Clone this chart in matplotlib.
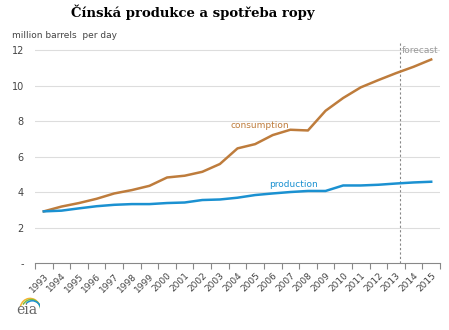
import numpy as np
import matplotlib.pyplot as plt
from matplotlib.patches import Arc

# data
years = [str(y) for y in range(1993, 2016)]
consumption = [2.91, 3.18, 3.38, 3.62, 3.92, 4.11, 4.35, 4.82, 4.92, 5.14, 5.58,
               6.46, 6.70, 7.21, 7.51, 7.47, 8.58, 9.30, 9.90, 10.31, 10.70, 11.06, 11.47]
production = [2.91, 2.95, 3.08, 3.20, 3.28, 3.32, 3.32, 3.38, 3.41, 3.55, 3.58,
              3.68, 3.83, 3.92, 4.00, 4.06, 4.06, 4.37, 4.37, 4.41, 4.48, 4.54, 4.58]
yticks = [0, 2, 4, 6, 8, 10, 12]
ytick_labels = ['-', '2', '4', '6', '8', '10', '12']

c_brown = '#BE7C3C'
c_blue = '#1B91D1'
c_text = '#444444'

fig = plt.figure(figsize=(4.49, 3.30), dpi=100)
ax = fig.add_axes([35/449, 67/330, 405/449, 220/330])

x = np.arange(len(years))
ax.plot(x, consumption, color=c_brown, lw=1.8, zorder=3)
ax.plot(x, production, color=c_blue, lw=1.8, zorder=3)

ax.set_xlim(-0.5, len(years) - 0.5)
ax.set_ylim(0, 12.4)

# horizontal grid
for v in yticks[1:]:
    ax.axhline(v, color='#DDDDDD', lw=0.8, zorder=1)

ax.set_yticks(yticks)
ax.set_yticklabels(ytick_labels, fontsize=7, color=c_text)
ax.tick_params(axis='y', length=0, pad=8)

# category ticks between years, labels at centers
ax.set_xticks(np.arange(-0.5, len(years)), minor=True)
ax.set_xticks(x)
ax.set_xticklabels(years, rotation=45, ha='right', rotation_mode='anchor',
                   fontsize=6.5, color=c_text)
ax.tick_params(axis='x', which='major', length=0, pad=6)
ax.tick_params(axis='x', which='minor', length=4, color='#888888', width=0.8)

for s in ['top', 'right', 'left']:
    ax.spines[s].set_visible(False)
ax.spines['bottom'].set_color('#888888')
ax.spines['bottom'].set_linewidth(0.8)

# forecast divider
ax.axvline(20.25, color='#888888', lw=0.8, ls=(0, (2, 2)), zorder=2)
ax.text(22.4, 12.0, 'forecast', color='#999999', fontsize=6.5, ha='right', va='center')

ax.text(10.6, 7.75, 'consumption', color=c_brown, fontsize=6.5, ha='left', va='center')
ax.text(12.8, 4.4, 'production', color=c_blue, fontsize=6.5, ha='left', va='center')

fig.text(12/449, 1 - 35/330, 'million barrels  per day', fontsize=6.5, color=c_text,
         ha='left', va='center')

fig.text(193/449, 1 - 12/330, 'Čínská produkce a spotřeba ropy', fontsize=9.5,
         fontweight='bold', family='DejaVu Serif', ha='center', va='center')

# eia logo
fig.text(16/449, 1 - 310/330, 'eia', fontsize=10, family='DejaVu Serif',
         color='#666666', ha='left', va='center')
lax = fig.add_axes([18/449, 1 - 312/330, 22/449, 16/330])
lax.set_xlim(0, 1)
lax.set_ylim(0, 1)
lax.axis('off')
lax.add_patch(Arc((0.55, 0.2), 0.9, 1.3, theta1=40, theta2=160, color='#F2B632', lw=1.1))
lax.add_patch(Arc((0.6, 0.15), 0.85, 1.25, theta1=10, theta2=140, color='#7DBB42', lw=1.1))
lax.add_patch(Arc((0.65, 0.1), 0.8, 1.2, theta1=-40, theta2=120, color='#1B91D1', lw=1.1))

fig.savefig('out.png', dpi=100)
